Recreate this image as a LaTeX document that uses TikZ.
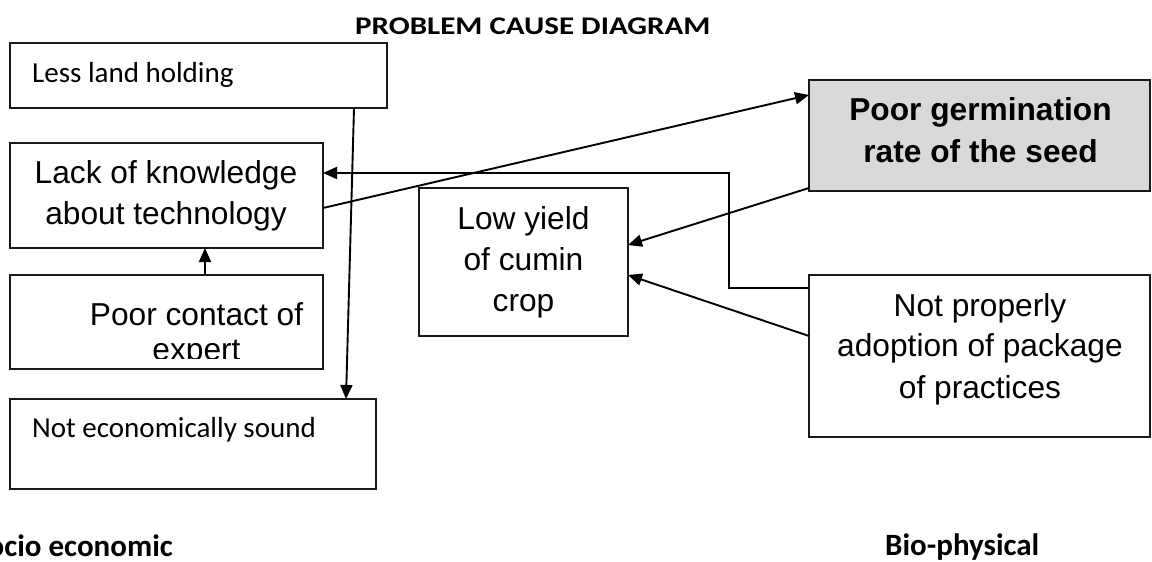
\documentclass[tikz,border=0pt]{standalone}
\usepackage{fontspec}
\newfontfamily\arialf{Liberation Sans}
\newfontfamily\calibrif{Carlito}
\usetikzlibrary{arrows.meta}
\definecolor{boxgray}{HTML}{D9D9D9}
\begin{document}
\begin{tikzpicture}[x=1pt,y=-1pt,
  box/.style={draw=black!90,line width=1.4pt,anchor=north west,inner sep=0pt,outer sep=0pt},
  conn/.style={line width=1.9pt,-{Triangle[length=14pt,width=12pt]}},
  big/.style={font=\arialf\fontsize{31.7}{38}\selectfont,inner sep=0pt,anchor=base},
  bigb/.style={font=\arialf\bfseries\fontsize{31.7}{38}\selectfont,inner sep=0pt,anchor=base},
  small/.style={font=\calibrif\fontsize{29}{34}\selectfont,inner sep=0pt,anchor=base west},
  heading/.style={font=\calibrif\bfseries\fontsize{31}{36}\selectfont,inner sep=0pt}
]
\useasboundingbox (0,0) rectangle (1152,562);

% title
\node[heading,anchor=base west,yscale=0.82] (title) at (355,34.3) {PROBLEM CAUSE DIAGRAM};

% boxes
\node[box,minimum width=377pt,minimum height=65pt] (less) at (10,43) {};
\node[box,minimum width=313pt,minimum height=105pt] (lack) at (10,143) {};
\node[box,minimum width=313pt,minimum height=94pt] (contact) at (10,275) {};
\node[box,minimum width=366pt,minimum height=90pt] (econ) at (10,399) {};
\node[box,minimum width=209pt,minimum height=148pt] (low) at (419,188) {};
\node[box,fill=boxgray,minimum width=341pt,minimum height=111pt] (germ) at (809,80) {};
\node[box,minimum width=341pt,minimum height=162pt] (adopt) at (809,275) {};

% texts
\node[small] (tless) at (32,82.7) {Less land holding};
\node[small] (tecon) at (32,437) {Not economically sound};
\node[big] (tlack1) at (166,183.5) {Lack of knowledge};
\node[big] (tlack2) at (166,224) {about technology};
\begin{scope}
\clip (12,277) rectangle (321,358.5);
\node[big] (tcon1) at (196.5,325) {Poor contact of};
\node[big] (tcon2) at (196.5,360.5) {expert};
\end{scope}
\node[big] (tlow1) at (523.5,229.3) {Low yield};
\node[big] (tlow2) at (523.5,270.5) {of cumin};
\node[big] (tlow3) at (523.5,311.7) {crop};
\node[bigb] (tgerm1) at (980.5,120.7) {Poor germination};
\node[bigb] (tgerm2) at (980.5,162.7) {rate of the seed};
\node[big] (tad1) at (980,316.7) {Not properly};
\node[big] (tad2) at (980,356.5) {adoption of package};
\node[big] (tad3) at (980,398) {of practices};

\node[heading,anchor=base east] (socio) at (173,556.7) {Socio economic};
\node[heading,anchor=base west] (bio) at (885,555) {Bio-physical};

% connectors
\draw[conn] ([xshift=344pt]less.south west) -- ([xshift=336pt]econ.north west);
\draw[conn] ([xshift=195pt]contact.north west) -- ([xshift=195pt]lack.south west);
\draw[conn] ([yshift=-65pt]lack.north east) -- ([yshift=-15pt]germ.north west);
\draw[conn] ([yshift=-13pt]adopt.north west) -- ++(-80,0) |- ([yshift=-30pt]lack.north east);
\draw[conn] ([yshift=3pt]germ.south west) -- ([yshift=-57pt]low.north east);
\draw[conn] ([yshift=-61pt]adopt.north west) -- ([yshift=-87pt]low.north east);
\end{tikzpicture}
\end{document}
